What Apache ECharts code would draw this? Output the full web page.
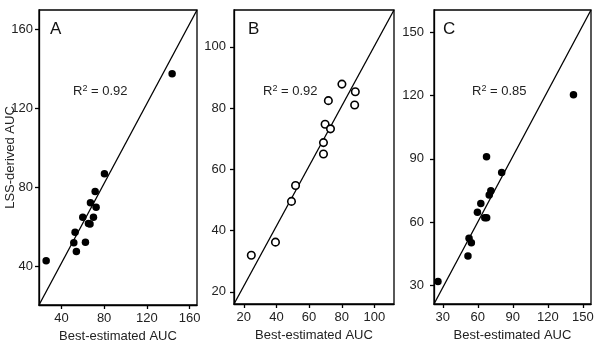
<!DOCTYPE html>
<html>
<head>
<meta charset="utf-8">
<script src="https://cdn.jsdelivr.net/npm/echarts@6/dist/echarts.min.js"></script>
<style>
  html, body { margin: 0; padding: 0; background: #fff; }
  #chart { width: 600px; height: 343px; }
</style>
</head>
<body>
<div id="chart"></div>
<script>
// panel A: filled dots
var aX = [143.7, 80.3, 71.6, 67.2, 72.5, 60, 70, 65.3, 66.8, 52.8, 51.6, 62.5, 54, 25.7];
var aY = [137.7, 87, 78, 72.3, 70.1, 65, 65, 61.8, 61.6, 57.4, 52, 52.3, 47.6, 42.9];
// panel B: open circles
var bX = [24.6, 39.4, 49.2, 51.7, 68.8, 68.8, 69.8, 73.1, 71.8, 80.1, 88.3, 87.9];
var bY = [31.9, 36.2, 49.5, 54.7, 65, 68.7, 74.7, 73.2, 82.4, 87.8, 85.3, 81];
// panel C: filled dots
var cX = [142, 67.5, 80.5, 71.2, 69.8, 62.6, 59.7, 66, 67.6, 52.5, 54.5, 51.6, 25.9];
var cY = [120.4, 91, 83.6, 74.9, 72.9, 68.9, 64.7, 62.1, 62.1, 52.4, 50.3, 44, 31.9];

var aTicks = [40, 80, 120, 160];
var bTicks = [20, 40, 60, 80, 100];
var cTicks = [30, 60, 90, 120, 150];

// unity line end points (corner to corner of each box)
var lineA = [[19, 20.5], [167, 170]];
var lineB = [[14, 16], [112, 112]];
var lineC = [[22.5, 21.3], [157, 160.5]];

var panelNames = ['A', 'B', 'C'];
var r2Text = ['0.92', '0.92', '0.85'];

var font = 'Liberation Sans, Arial, sans-serif';
var chart = echarts.init(document.getElementById('chart'));

function pairs(xs, ys) {
    return xs.map(function (x, i) { return [x, ys[i]]; });
}

var grids = [
    { left: 39, top: 10, width: 158, height: 295 },
    { left: 234, top: 10, width: 160, height: 294 },
    { left: 434, top: 10, width: 157, height: 294 }
];
var xRange = [[19, 167], [14, 112], [22.5, 157]];
var yRange = [[20.5, 170], [16, 112], [21.3, 160.5]];
var ticks = [aTicks, bTicks, cTicks];
var yMargin = [6, 8, 10];

function xAxis(i) {
    return {
        gridIndex: i, type: 'value', min: xRange[i][0], max: xRange[i][1],
        name: 'Best-estimated AUC', nameLocation: 'middle', nameGap: 25, nameMoveOverlap: false,
        nameTextStyle: { fontSize: 13, color: '#222', fontFamily: font },
        axisLine: { show: true, onZero: false, lineStyle: { color: '#000', width: 1.3 } },
        axisTick: { show: true, length: 4, customValues: ticks[i], lineStyle: { color: '#000', width: 1.3 } },
        axisLabel: { customValues: ticks[i], fontSize: 13, color: '#222', fontFamily: font, margin: 7 },
        splitLine: { show: false }
    };
}

function yAxis(i) {
    return {
        gridIndex: i, type: 'value', min: yRange[i][0], max: yRange[i][1],
        name: i === 0 ? 'LSS-derived AUC' : '', nameLocation: 'middle', nameGap: 22, nameMoveOverlap: false,
        nameTextStyle: { fontSize: 13, color: '#222', fontFamily: font },
        axisLine: { show: true, onZero: false, lineStyle: { color: '#000', width: 1.3 } },
        axisTick: { show: true, length: 4, customValues: ticks[i], lineStyle: { color: '#000', width: 1.3 } },
        axisLabel: { customValues: ticks[i], fontSize: 13, color: '#222', fontFamily: font, margin: yMargin[i] },
        splitLine: { show: false }
    };
}

var series = [];
var lines = [lineA, lineB, lineC];
var pts = [pairs(aX, aY), pairs(bX, bY), pairs(cX, cY)];
for (var i = 0; i < 3; i++) {
    series.push({
        type: 'line', xAxisIndex: i, yAxisIndex: i, data: lines[i],
        showSymbol: false, silent: true, z: 2,
        lineStyle: { color: '#000', width: 1.3 }
    });
    series.push({
        type: 'scatter', xAxisIndex: i, yAxisIndex: i, data: pts[i],
        symbol: 'circle', symbolSize: 7.5, z: 3,
        itemStyle: i === 1
            ? { color: '#fff', borderColor: '#000', borderWidth: 1.6, opacity: 1 }
            : { color: '#000', opacity: 1 }
    });
}

var titles = [];
var letterPos = [[45, 16], [243, 16], [438, 16]];
var r2Pos = [[68, 79], [258, 79], [467, 79]];
for (var j = 0; j < 3; j++) {
    titles.push({
        text: panelNames[j], left: letterPos[j][0], top: letterPos[j][1],
        textStyle: { fontSize: 17, fontWeight: 'normal', color: '#111', fontFamily: font }
    });
    titles.push({
        text: '{r|R}{s|2}{r| = ' + r2Text[j] + '}', left: r2Pos[j][0], top: r2Pos[j][1],
        textStyle: {
            fontFamily: font, fontWeight: 'normal',
            rich: {
                r: { fontSize: 13, fontWeight: 'normal', color: '#222', fontFamily: font },
                s: { fontSize: 9, fontWeight: 'normal', color: '#222', fontFamily: font, verticalAlign: 'top', padding: [0, 0, 6, 0] }
            }
        }
    });
}

chart.setOption({
    animation: false,
    backgroundColor: '#fff',
    title: titles,
    grid: grids.map(function (g) {
        return Object.assign({
            show: true, borderColor: '#000', borderWidth: 1.3, backgroundColor: 'transparent',
            containLabel: false, outerBoundsMode: 'none'
        }, g);
    }),
    xAxis: [xAxis(0), xAxis(1), xAxis(2)],
    yAxis: [yAxis(0), yAxis(1), yAxis(2)],
    series: series
});
</script>
</body>
</html>
